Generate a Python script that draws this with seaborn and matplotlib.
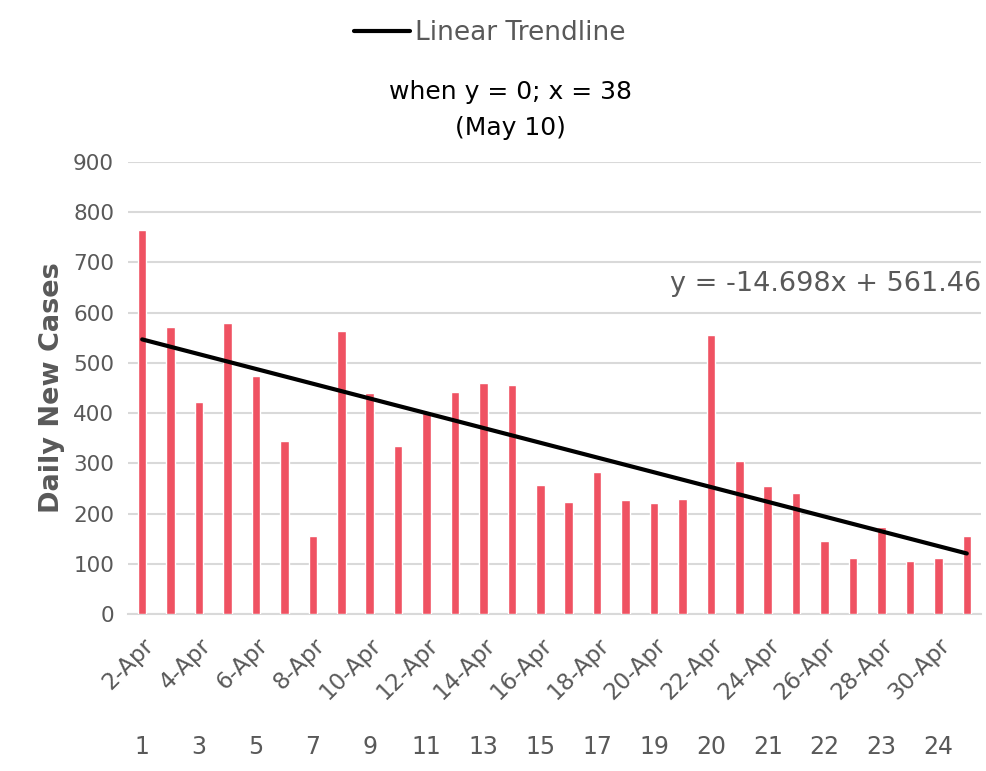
import matplotlib
matplotlib.use("Agg")
import matplotlib.pyplot as plt
import seaborn as sns
import pandas as pd
import numpy as np

dates = [f"{d}-Apr" for d in range(2, 31)] + ["1-May"]
cases = [765, 571, 422, 579, 474, 344, 155, 564, 440, 335,
         400, 442, 460, 456, 256, 224, 283, 226, 222, 229,
         556, 305, 255, 240, 145, 112, 173, 106, 112, 155]
shown_date_labels = [f"{d}-Apr" for d in range(2, 31, 2)]
second_row_labels = ["1", "3", "5", "7", "9", "11", "13", "15", "17", "19",
                     "20", "21", "22", "23", "24"]
trend_slope = -14.698
trend_intercept = 561.46
y_ticks = [0, 100, 200, 300, 400, 500, 600, 700, 800, 900]

sns.set_theme(style="white")
plt.rcParams['font.family'] = ['DejaVu Sans']

GRAY = "#595959"
BAR = "#EF5262"

fig = plt.figure(figsize=(9.86, 7.71), dpi=100)
ax = fig.add_axes([128/986, 1-614/771, (981-128)/986, (614-162)/771])

df = pd.DataFrame({"date": dates, "cases": cases})
sns.barplot(data=df, x="date", y="cases", color=BAR, width=0.3,
            saturation=1, ax=ax, zorder=3)

pos = np.arange(len(dates))
trend = trend_slope * (pos + 1) + trend_intercept
ax.plot(pos, trend, color="black", lw=3, zorder=4, label="Linear Trendline",
        solid_capstyle="round")

ax.set_xlim(-0.5, len(dates) - 0.5)
ax.set_ylim(0, 900)
ax.set_yticks(y_ticks)
ax.set_yticklabels([str(v) for v in y_ticks], fontsize=15.5, color=GRAY)
ax.grid(axis="y", color="#D9D9D9", lw=1.5, zorder=0)
ax.set_axisbelow(True)
for s in ["top", "right", "left"]:
    ax.spines[s].set_visible(False)
ax.spines["bottom"].set_color("#D9D9D9")
ax.spines["bottom"].set_linewidth(1.5)
ax.tick_params(axis="both", length=0)
ax.tick_params(axis="y", pad=10)

tick_pos = [dates.index(d) for d in shown_date_labels]
ax.set_xticks(tick_pos)
ax.set_xticklabels(shown_date_labels, rotation=45, ha="right",
                   rotation_mode="anchor", fontsize=16.5, color=GRAY)
ax.tick_params(axis="x", pad=14)
ax.set_xlabel("")
ax.set_ylabel("Daily New Cases", fontsize=19.5, fontweight="bold", color=GRAY,
              labelpad=6)

for p, lab in zip(tick_pos, second_row_labels):
    ax.text(p, -0.295, lab, transform=ax.get_xaxis_transform(),
            ha="center", va="center", fontsize=17, color=GRAY)

ax.text(len(dates) - 0.5, 657, "y = -14.698x + 561.46", ha="right",
        va="center", fontsize=19.5, color=GRAY)

fig.text(510/986, 1-92/771, "when y = 0; x = 38", ha="center", va="center",
         fontsize=18, color="black")
fig.text(510/986, 1-128/771, "(May 10)", ha="center", va="center",
         fontsize=18, color="black")

leg = fig.legend(loc="center", bbox_to_anchor=(490/986, 1-33/771),
                 frameon=False, fontsize=19, handlelength=2.1,
                 handletextpad=0.2, labelcolor=GRAY)

fig.savefig("out.png", dpi=100)
